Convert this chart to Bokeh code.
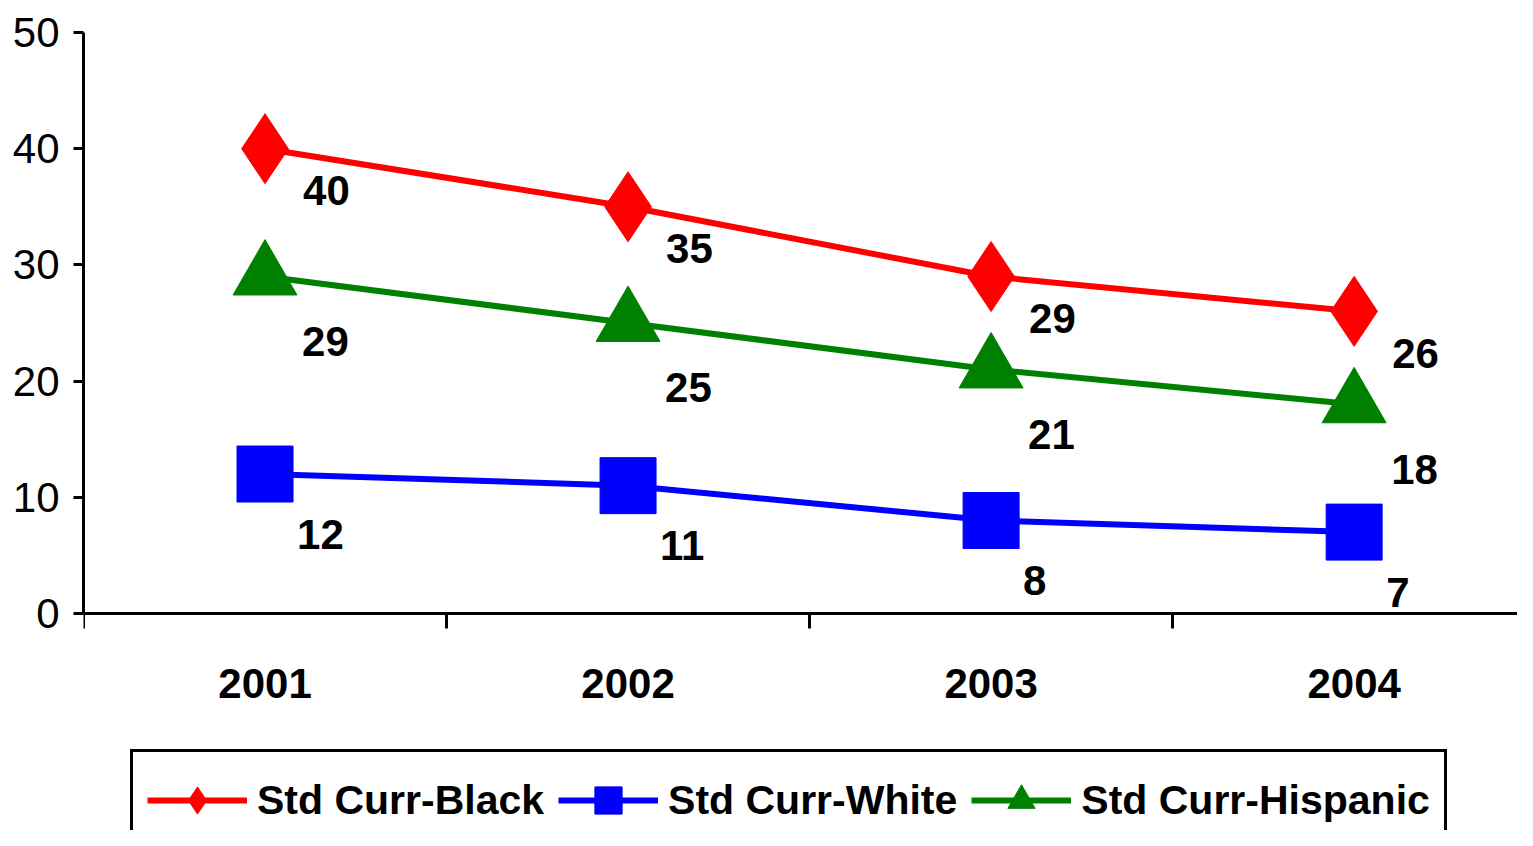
from bokeh.plotting import figure
from bokeh.models import Range1d, FixedTicker, Legend, LegendItem, LinearAxis
from bokeh.core.properties import value
from bokeh.embed import file_html
from bokeh.resources import INLINE

years = ["2001", "2002", "2003", "2004"]
black = [40, 35, 29, 26]
white = [12, 11, 8, 7]
hispanic = [29, 25, 21, 18]
y_ticks = [0, 10, 20, 30, 40, 50]

xs = list(range(1, len(years) + 1))
FONT = "Liberation Sans"

p = figure(width=1517, height=830, output_backend="svg", toolbar_location=None,
           x_range=Range1d(0.5, len(years) + 0.45), y_range=Range1d(-18.68, 50),
           min_border_left=83, min_border_right=0, min_border_top=32, min_border_bottom=0,
           x_axis_location=None, y_axis_location=None)
p.outline_line_color = None
p.grid.visible = False
p.background_fill_color = "white"
p.border_fill_color = "white"

# y axis
yax = LinearAxis(ticker=FixedTicker(ticks=y_ticks, minor_ticks=[]), bounds=(0, 50))
yax.axis_line_width = 3
yax.axis_line_color = "black"
yax.major_tick_line_width = 3
yax.major_tick_out = 10
yax.major_tick_in = 0
yax.minor_tick_line_color = None
yax.major_label_text_font = FONT
yax.major_label_text_font_size = "42px"
yax.major_label_text_color = "black"
yax.major_label_standoff = 14
p.add_layout(yax, "left")

# x axis line at y=0 with tick marks at category boundaries (no labels on this axis)
xax = LinearAxis(ticker=FixedTicker(ticks=[], minor_ticks=[x - 0.5 for x in xs] + [xs[-1] + 0.5]),
                 fixed_location=0)
xax.axis_line_width = 3
xax.axis_line_color = "black"
xax.major_tick_line_color = None
xax.minor_tick_line_width = 3
xax.minor_tick_line_color = "black"
xax.minor_tick_out = 15
xax.minor_tick_in = 0
xax.major_label_standoff = 0
p.add_layout(xax, "below")

# category labels
p.text(xs, [0] * len(xs), text=years, y_offset=70,
       text_font=value(FONT), text_font_style="bold", text_font_size="42px",
       text_color="black", text_align="center", text_baseline="middle")

series = [
    ("Std Curr-Black", black, "#FF0000", "diamond", 70, 38, 42),
    ("Std Curr-White", white, "#0000FF", "square", 56, 32, 60),
    ("Std Curr-Hispanic", hispanic, "#008000", "triangle", 64, 37, 65),
]

items = []
for name, vals, color, marker, size, dx, dy in series:
    ln = p.line(xs, vals, line_color=color, line_width=6)
    mk = p.scatter(xs, vals, marker=marker, size=size, fill_color=color, line_color=color)
    p.text(xs, vals, text=[str(v) for v in vals], x_offset=dx, y_offset=dy,
           text_font=value(FONT), text_font_style="bold", text_font_size="42px",
           text_color="black", text_align="left", text_baseline="middle")
    items.append(LegendItem(label=name, renderers=[ln, mk]))

legend = Legend(items=items, orientation="horizontal", location=(47, -21))
legend.label_text_font = FONT
legend.label_text_font_style = "bold"
legend.label_text_font_size = "41px"
legend.label_text_color = "black"
legend.glyph_width = 100
legend.glyph_height = 68
legend.label_height = 68
legend.label_standoff = 10
legend.spacing = 14
legend.padding = 14
legend.margin = 0
legend.border_line_color = "black"
legend.border_line_alpha = 1
legend.border_line_width = 3
legend.background_fill_alpha = 1
p.add_layout(legend, "center")

open("out.html", "w").write(file_html(p, INLINE))
